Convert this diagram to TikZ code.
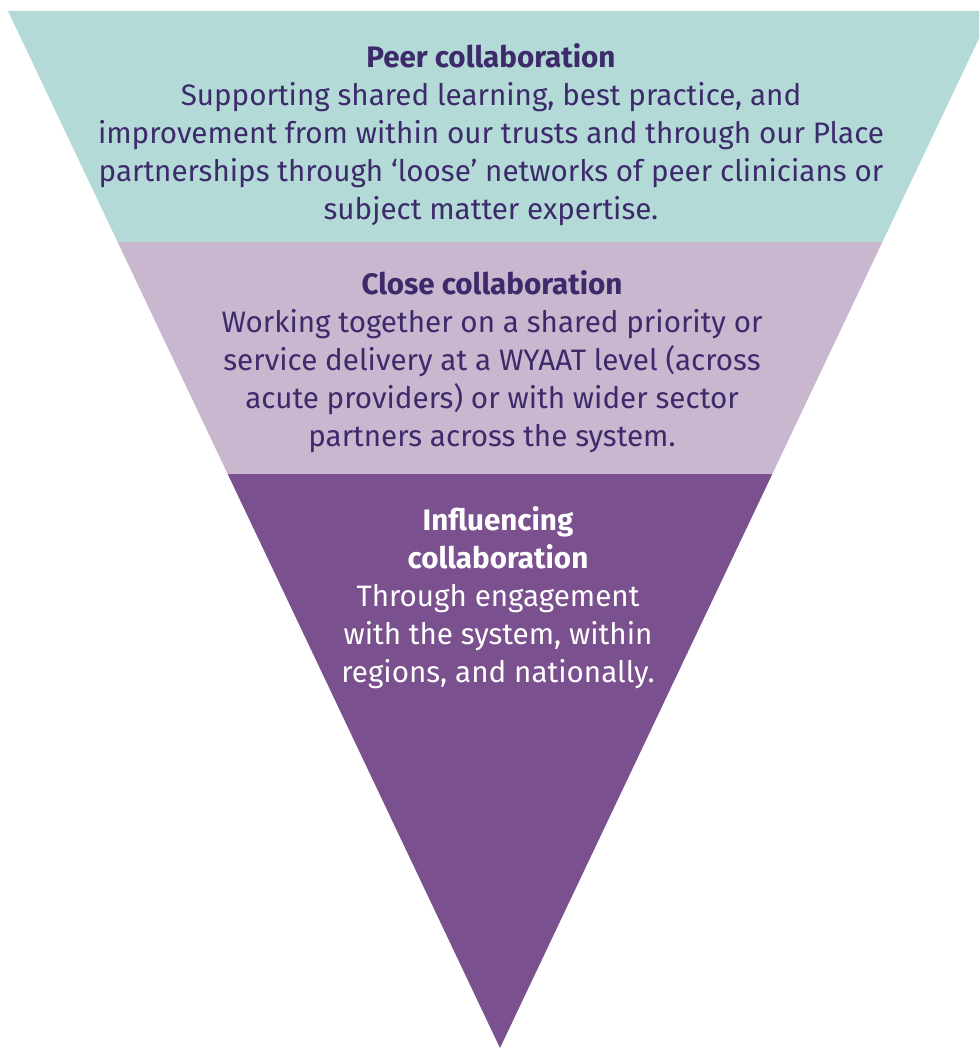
\documentclass[tikz,border=0pt]{standalone}
\usepackage{fontspec}
\setmainfont{Fira Sans}
\definecolor{peerfill}{HTML}{B3DAD7}
\definecolor{closefill}{HTML}{C9B6CF}
\definecolor{inflfill}{HTML}{7B508E}
\definecolor{inktext}{HTML}{3D2A6B}
\tikzset{
  band/.style={draw=none},
  tiertext/.style={align=center, inner sep=0pt,
    font=\fontsize{29.6}{38}\selectfont},
}
\begin{document}
\begin{tikzpicture}[x=1pt,y=-1pt]
\useasboundingbox (0,0) rectangle (979,1048);
\clip (0,0) rectangle (979,1048);
% corners of the inverted triangle and its band boundaries
\coordinate (tl) at (8,11);
\coordinate (tr) at (992,11);
\coordinate (apex) at (500,1048);
\coordinate (l1) at (117.6,242);
\coordinate (r1) at (882.4,242);
\coordinate (l2) at (227.7,474);
\coordinate (r2) at (772.3,474);
% three bands
\fill[band, peerfill] (tl) -- (tr) -- (r1) -- (l1) -- cycle;
\fill[band, closefill] (l1) -- (r1) -- (r2) -- (l2) -- cycle;
\fill[band, inflfill] (l2) -- (r2) -- (apex) -- cycle;
% band texts
\node[tiertext, text=inktext] (peer) at (491,135)
  {\textbf{Peer collaboration}\\
   Supporting shared learning, best practice, and\\
   improvement from within our trusts and through our Place\\
   partnerships through ‘loose’ networks of peer clinicians or\\
   subject matter expertise.};
\node[tiertext, text=inktext] (close) at (492,362)
  {\textbf{Close collaboration}\\
   Working together on a shared priority or\\
   service delivery at a WYAAT level (across\\
   acute providers) or with wider sector\\
   partners across the system.};
\node[tiertext, text=white] (infl) at (498,598)
  {\textbf{Influencing}\\
   \textbf{collaboration}\\
   Through engagement\\
   with the system, within\\
   regions, and nationally.};
\end{tikzpicture}
\end{document}
